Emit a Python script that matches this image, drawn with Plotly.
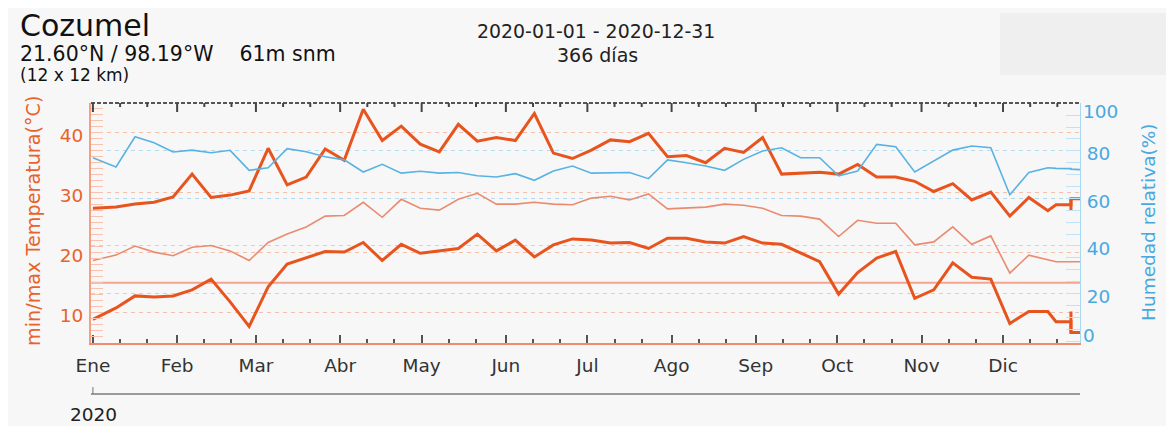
import plotly.graph_objects as go

# ---------------- data ----------------
dates = ["2020-01-01",
         "2020-01-09 12:00", "2020-01-16 12:00", "2020-01-23 12:00", "2020-01-30 12:00",
         "2020-02-06 12:00", "2020-02-13 12:00", "2020-02-20 12:00", "2020-02-27 12:00",
         "2020-03-05 12:00", "2020-03-12 12:00", "2020-03-19 12:00", "2020-03-26 12:00",
         "2020-04-02 12:00", "2020-04-09 12:00", "2020-04-16 12:00", "2020-04-23 12:00", "2020-04-30 12:00",
         "2020-05-07 12:00", "2020-05-14 12:00", "2020-05-21 12:00", "2020-05-28 12:00",
         "2020-06-04 12:00", "2020-06-11 12:00", "2020-06-18 12:00", "2020-06-25 12:00",
         "2020-07-02 12:00", "2020-07-09 12:00", "2020-07-16 12:00", "2020-07-23 12:00", "2020-07-30 12:00",
         "2020-08-06 12:00", "2020-08-13 12:00", "2020-08-20 12:00", "2020-08-27 12:00",
         "2020-09-03 12:00", "2020-09-10 12:00", "2020-09-17 12:00", "2020-09-24 12:00",
         "2020-10-01 12:00", "2020-10-08 12:00", "2020-10-15 12:00", "2020-10-22 12:00", "2020-10-29 12:00",
         "2020-11-05 12:00", "2020-11-12 12:00", "2020-11-19 12:00", "2020-11-26 12:00",
         "2020-12-03 12:00", "2020-12-10 12:00", "2020-12-17 12:00",
         "2020-12-20 12:00", "2020-12-26", "2020-12-26", "2020-12-31"]

tmax = [27.4, 27.6, 28.1, 28.4, 29.3, 33.1, 29.2, 29.6, 30.3, 37.4,
        31.3, 32.6, 37.3, 35.4, 43.9, 38.7, 41.1, 38.1, 36.8, 41.4,
        38.6, 39.2, 38.7, 43.2, 36.6, 35.7, 37.1, 38.8, 38.5, 39.9,
        36.0, 36.2, 35.0, 37.4, 36.7, 39.2, 33.1, 33.3, 33.4, 33.1,
        34.7, 32.6, 32.6, 31.9, 30.2, 31.5, 28.8, 30.1, 26.1, 29.2,
        27.0, 28.0, 28.0, 29.0, 29.0]

tmin = [8.9, 10.8, 12.8, 12.6, 12.8, 13.8, 15.6, 11.8, 7.7, 14.3,
        18.1, 19.1, 20.2, 20.1, 21.7, 18.7, 21.4, 19.9, 20.3, 20.7,
        23.1, 20.3, 22.1, 19.3, 21.3, 22.3, 22.1, 21.6, 21.7, 20.7,
        22.4, 22.4, 21.8, 21.6, 22.7, 21.6, 21.4, 19.9, 18.5, 13.1,
        16.7, 19.1, 20.2, 12.4, 13.8, 18.3, 15.9, 15.6, 8.2, 10.2,
        10.2, 8.5, 8.5, 6.7, 6.7]

tmean = [18.7, 19.6, 21.1, 20.1, 19.5, 20.9, 21.2, 20.3, 18.7, 21.7,
         23.1, 24.3, 26.1, 26.2, 28.4, 25.9, 28.9, 27.4, 27.1, 28.9,
         29.9, 28.1, 28.1, 28.4, 28.1, 28.0, 29.1, 29.4, 28.8, 29.8,
         27.3, 27.5, 27.6, 28.1, 27.9, 27.4, 26.2, 26.1, 25.6, 22.7,
         25.4, 24.9, 24.9, 21.3, 21.8, 24.3, 21.4, 22.8, 16.6, 19.6,
         18.8, 18.5, 18.5, 18.5, 18.5]

rh = [77.1, 73.2, 85.9, 83.4, 79.5, 80.3, 79.2, 80.2, 71.8, 72.9,
      80.9, 79.6, 77.5, 76.2, 71.1, 74.3, 70.6, 71.4, 70.6, 70.9,
      69.5, 69.0, 70.4, 67.6, 71.5, 73.6, 70.6, 70.6, 70.9, 68.3,
      76.2, 75.0, 73.6, 71.8, 76.4, 79.9, 81.3, 77.1, 77.1, 69.5,
      71.5, 82.7, 81.7, 71.1, 75.7, 80.3, 82.0, 81.3, 61.5, 70.9,
      72.9, 72.6, 72.5, 72.3, 72.0]

# final partial-period range markers
end_date = ["2020-12-26", "2020-12-26"]
end_tmax_range = [27.1, 29.0]
end_tmin_range = [6.7, 10.2]

ref_temp = 15.0

month_starts = ["2020-%02d-01" % m for m in range(1, 13)]
month_labels = ["Ene", "Feb", "Mar", "Abr", "May", "Jun",
                "Jul", "Ago", "Sep", "Oct", "Nov", "Dic"]
minor_days = ["2020-%02d-%02d" % (m, d) for m in range(1, 13) for d in (11, 21)]
temp_ticks = [10, 20, 30, 40]
rh_ticks_inner = [20, 40, 60, 80]
rh_ticks_edge = [0, 100]
rh_grid = [20, 40, 60, 80]

# ---------------- layout helpers ----------------
# the page body has an 8px margin: figure starts at (8, 8) of the window
OFF = 8
W, H = 1174 - OFF, 426 - OFF
L, R, T, B = 91 - OFF, 1080 - OFF, 103 - OFF, 343 - OFF


def px_x(px):
    """window pixel x -> paper x"""
    return (px - OFF - L) / (R - L)


def px_y(py):
    """window pixel y -> paper y"""
    return (B - (py - OFF)) / (B - T)


FONT = "DejaVu Sans"
ORANGE = "#e8541e"
ORANGE_TXT = "#e8622c"
BLUE = "#5ab2e2"
BLUE_TXT = "#4aa8e0"
BG = "#f7f7f7"

fig = go.Figure()

fig.add_trace(go.Scatter(x=dates, y=rh, yaxis="y2", mode="lines",
                         line=dict(color=BLUE, width=1.6), name="Humedad relativa"))
fig.add_trace(go.Scatter(x=dates, y=tmean, mode="lines",
                         line=dict(color="#ea8b6f", width=1.6), name="T media"))
fig.add_trace(go.Scatter(x=dates, y=tmax, mode="lines",
                         line=dict(color=ORANGE, width=3), name="T max"))
fig.add_trace(go.Scatter(x=dates, y=tmin, mode="lines",
                         line=dict(color=ORANGE, width=3), name="T min"))
fig.add_trace(go.Scatter(x=end_date, y=end_tmax_range, mode="lines",
                         line=dict(color=ORANGE, width=3), name="rango max"))
fig.add_trace(go.Scatter(x=end_date, y=end_tmin_range, mode="lines",
                         line=dict(color=ORANGE, width=3), name="rango min"))
# helper traces for the RH grid / edge-label axes
fig.add_trace(go.Scatter(x=[dates[0]], y=[None], yaxis="y3", mode="lines",
                         hoverinfo="skip", name="grid"))
fig.add_trace(go.Scatter(x=[dates[0]], y=[None], yaxis="y4", mode="lines",
                         hoverinfo="skip", name="edge"))

x_range = ["2019-12-31 07:00", "2020-12-29 08:00"]

fig.update_layout(
    width=W, height=H,
    margin=dict(l=L, r=W - R, t=T, b=H - B, pad=0, autoexpand=False),
    paper_bgcolor=BG, plot_bgcolor=BG,
    showlegend=False,
    font=dict(family=FONT, size=18, color="#333"),
    xaxis=dict(
        type="date", range=x_range, showgrid=False, zeroline=False,
        showline=True, linecolor="#f08c6c", linewidth=2,
        tickmode="array", tickvals=month_starts, ticktext=month_labels,
        ticks="inside", ticklen=8, tickwidth=2, tickcolor="#555",
        tickfont=dict(family=FONT, size=18.5, color="#333"),
        ticklabelstandoff=5, automargin=False,
        minor=dict(tickmode="array", tickvals=minor_days, ticks="inside",
                   ticklen=4, tickwidth=2, tickcolor="#555", showgrid=False),
    ),
    yaxis=dict(
        range=[4.95, 44.95], tickmode="array", tickvals=temp_ticks,
        tickfont=dict(family=FONT, size=18.5, color=ORANGE_TXT),
        ticks="inside", ticklen=12, tickwidth=1, tickcolor="#f7c3b0",
        showline=True, linecolor="#f4a080", linewidth=2,
        showgrid=True, gridcolor="#f6bfa9", gridwidth=1, griddash="4px,4px",
        zeroline=False, ticklabelshift=3, ticklabelstandoff=2, automargin=False,
        minor=dict(dtick=1, ticks="inside", ticklen=12, tickwidth=1,
                   tickcolor="#f7c3b0", showgrid=False),
    ),
    yaxis2=dict(
        overlaying="y", side="right", range=[-0.8, 100.1],
        tickmode="array", tickvals=rh_ticks_inner,
        tickfont=dict(family=FONT, size=18.5, color=BLUE_TXT),
        ticks="inside", ticklen=14, tickwidth=1, tickcolor="#bfe2f5",
        showline=True, linecolor="#a8d8f0", linewidth=1, automargin=False,
        showgrid=False, zeroline=False, ticklabelshift=3, ticklabelstandoff=2,
        minor=dict(dtick=5, ticks="inside", ticklen=14, tickwidth=1,
                   tickcolor="#bfe2f5", showgrid=False),
    ),
    yaxis3=dict(
        overlaying="y", side="right", range=[-0.8, 100.1],
        tickmode="array", tickvals=rh_grid, showticklabels=False, ticks="",
        showgrid=True, gridcolor="#b3dbf2", gridwidth=1, griddash="4px,4px",
        showline=False, zeroline=False, automargin=False,
    ),
    # end labels 0 / 100 are nudged inward as in the original chart
    yaxis4=dict(
        overlaying="y", side="right", range=[-4.9, 102.6],
        tickmode="array", tickvals=rh_ticks_edge, ticks="",
        tickfont=dict(family=FONT, size=18.5, color=BLUE_TXT),
        showgrid=False, showline=False, zeroline=False, automargin=False,
        ticklabelshift=3, ticklabelstandoff=2,
    ),
)

shapes = [
    # top-right grey box
    dict(type="rect", xref="paper", yref="paper", x0=px_x(1000), x1=px_x(1174),
         y0=px_y(75), y1=px_y(13), fillcolor="#efefef", line=dict(width=0), layer="below"),
    # 15 °C reference line
    dict(type="line", xref="paper", yref="y", x0=0, x1=1, y0=ref_temp, y1=ref_temp,
         line=dict(color="#f5a48d", width=2), layer="below"),
    # top axis dashed line
    dict(type="line", xref="paper", yref="paper", x0=0, x1=1, y0=1, y1=1,
         line=dict(color="#555", width=2, dash="4px,2px"), layer="above"),
    # year axis line
    dict(type="line", xref="paper", yref="paper", x0=0, x1=1, y0=px_y(394), y1=px_y(394),
         line=dict(color="#9a9a9a", width=2)),
    # year tick
    dict(type="line", xref="x", yref="paper", x0="2020-01-01", x1="2020-01-01",
         y0=px_y(394), y1=px_y(387), line=dict(color="#777", width=1)),
]
for s in shapes:
    fig.add_shape(**s)

# top axis ticks (month and 10-day)
for m in month_starts:
    fig.add_shape(type="line", xref="x", yref="paper", x0=m, x1=m,
                  y0=1, y1=px_y(103 + 9), line=dict(color="#444", width=2))
for d in minor_days:
    fig.add_shape(type="line", xref="x", yref="paper", x0=d, x1=d,
                  y0=1, y1=px_y(103 + 4), line=dict(color="#444", width=2))

ann = [
    dict(text="Cozumel", x=px_x(18), y=px_y(25), size=30, color="#111", xanchor="left"),
    dict(text="21.60°N / 98.19°W\u00a0\u00a0\u00a0\u00a061m snm", x=px_x(18), y=px_y(54),
         size=20.5, color="#111", xanchor="left"),
    dict(text="(12 x 12 km)", x=px_x(18), y=px_y(75), size=17, color="#111", xanchor="left"),
    dict(text="2020-01-01 - 2020-12-31", x=px_x(596), y=px_y(31), size=18.9,
         color="#222", xanchor="center"),
    dict(text="366 días", x=px_x(597), y=px_y(55), size=19, color="#222", xanchor="center"),
    dict(text="2020", x=px_x(93), y=px_y(414), size=18.5, color="#222", xanchor="center"),
]
for a in ann:
    fig.add_annotation(text=a["text"], xref="paper", yref="paper", x=a["x"], y=a["y"],
                       xanchor=a["xanchor"], yanchor="middle", showarrow=False,
                       font=dict(family=FONT, size=a["size"], color=a["color"]))

fig.add_annotation(text="min/max Temperatura(°C)", xref="paper", yref="paper",
                   x=px_x(33), y=px_y(221), textangle=-90, showarrow=False,
                   xanchor="center", yanchor="middle",
                   font=dict(family=FONT, size=19.2, color=ORANGE_TXT))
fig.add_annotation(text="Humedad relativa(%)", xref="paper", yref="paper",
                   x=px_x(1148), y=px_y(222), textangle=-90, showarrow=False,
                   xanchor="center", yanchor="middle",
                   font=dict(family=FONT, size=18.5, color=BLUE_TXT))

fig.write_html("out.html")
